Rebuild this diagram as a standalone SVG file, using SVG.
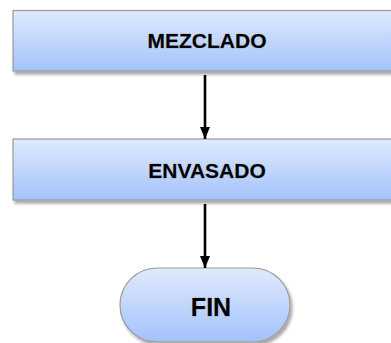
<svg xmlns="http://www.w3.org/2000/svg" width="391" height="343" viewBox="0 0 391 343">
<defs>
<linearGradient id="g" x1="0" y1="0" x2="0" y2="1">
<stop offset="0" stop-color="#e0eafd"/>
<stop offset="1" stop-color="#a3c2fb"/>
</linearGradient>
<filter id="sh" x="-10%" y="-10%" width="130%" height="140%">
<feGaussianBlur in="SourceAlpha" stdDeviation="1.5"/>
<feOffset dx="2" dy="3" result="b"/>
<feComponentTransfer><feFuncA type="linear" slope="0.35"/></feComponentTransfer>
<feMerge><feMergeNode/><feMergeNode in="SourceGraphic"/></feMerge>
</filter>
<marker id="ah" markerWidth="12" markerHeight="10" refX="12" refY="5" orient="auto" markerUnits="userSpaceOnUse" viewBox="0 0 12 10">
<path d="M0,0 L12,5 L0,10 Z" fill="#000"/>
</marker>
<style>
.box{fill:url(#g);stroke:#9a9a9a;stroke-width:1.2;filter:url(#sh)}
.t{font-family:"Liberation Sans",Arial,sans-serif;font-weight:bold;fill:#000;text-anchor:middle;stroke:#3a2a10;stroke-width:0.4;stroke-opacity:0.6}
.c{stroke:#000;stroke-width:2.6;fill:none}
</style>
</defs>
<g id="n1">
<rect class="box" x="13" y="10.5" width="400" height="60.5"/>
<text class="t" x="207" y="48" font-size="21">MEZCLADO</text>
</g>
<g id="n2">
<rect class="box" x="13" y="139" width="400" height="61"/>
<text class="t" x="207" y="178" font-size="21">ENVASADO</text>
</g>
<g id="n3">
<rect class="box" x="120" y="268" width="170" height="74" rx="37" ry="37"/>
<text class="t" x="211" y="316" font-size="25">FIN</text>
</g>
<g id="connectors">
<path class="c" d="M205,75 V139" marker-end="url(#ah)"/>
<path class="c" d="M205,204 V268" marker-end="url(#ah)"/>
</g>
</svg>
